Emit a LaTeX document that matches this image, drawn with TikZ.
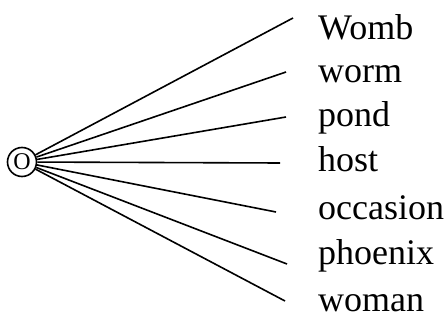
\documentclass[tikz,border=0pt]{standalone}
\usepackage{fontspec}
\setmainfont{Liberation Serif}
\begin{document}
\begin{tikzpicture}[x=1pt,y=-1pt,
  ray/.style={line width=1.6pt},
  word/.style={anchor=base west,inner sep=0pt,font=\fontsize{36}{40}\selectfont},
  hub/.style={circle,draw,line width=1.6pt,minimum size=29pt,inner sep=0pt,font=\fontsize{24}{26}\selectfont}]
\useasboundingbox (0,0) rectangle (447,320);
\node[hub] (o) at (22,162) {O};
\coordinate (e1) at (293,18);
\coordinate (e2) at (286,72);
\coordinate (e3) at (286,117);
\coordinate (e4) at (280,163);
\coordinate (e5) at (276,212);
\coordinate (e6) at (287,264);
\coordinate (e7) at (285,301);
\foreach \i in {1,...,7} \draw[ray] (o) -- (e\i);
\node[word] (w1) at (318,40) {Womb};
\node[word] (w2) at (318,83) {worm};
\node[word] (w3) at (318,127) {pond};
\node[word] (w4) at (318,172) {host};
\node[word] (w5) at (318,220) {occasion};
\node[word] (w6) at (318,265) {phoenix};
\node[word] (w7) at (318,312) {woman};
\end{tikzpicture}
\end{document}
